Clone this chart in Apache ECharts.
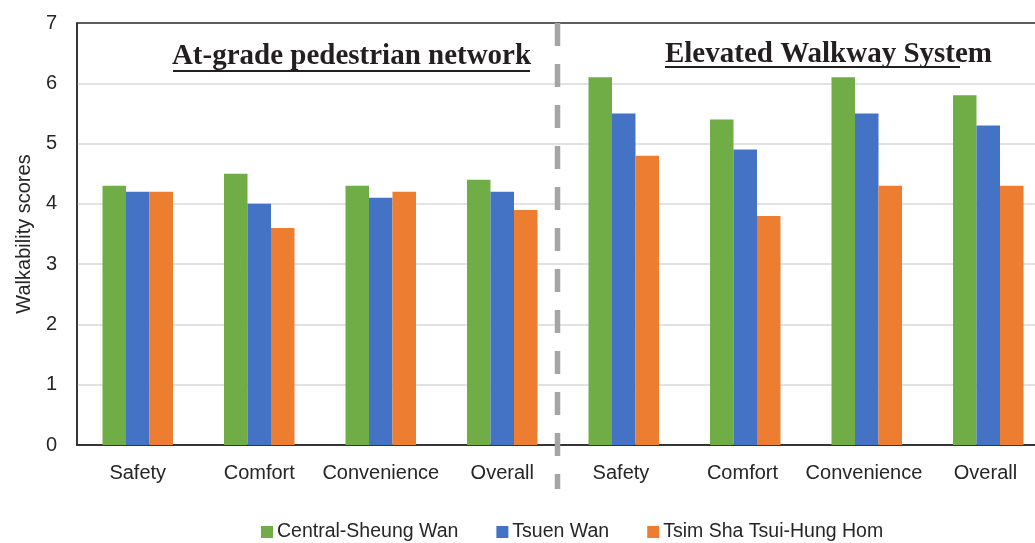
<!DOCTYPE html>
<html>
<head>
<meta charset="utf-8">
<script src="https://cdn.jsdelivr.net/npm/echarts@6/dist/echarts.min.js"></script>
<style>
html,body{margin:0;padding:0;background:#fff;}
#main{width:1035px;height:543px;}
</style>
</head>
<body>
<div id="main"></div>
<script>
var categories = ['Safety', 'Comfort', 'Convenience', 'Overall', 'Safety ', 'Comfort ', 'Convenience ', 'Overall '];
var seriesNames = ['Central-Sheung Wan', 'Tsuen Wan', 'Tsim Sha Tsui-Hung Hom'];
var centralSheungWan = [4.3, 4.5, 4.3, 4.4, 6.1, 5.4, 6.1, 5.8];
var tsuenWan = [4.2, 4.0, 4.1, 4.2, 5.5, 4.9, 5.5, 5.3];
var tsimShaTsuiHungHom = [4.2, 3.6, 4.2, 3.9, 4.8, 3.8, 4.3, 4.3];
var yTicks = [0, 1, 2, 3, 4, 5, 6, 7];
var sectionTitles = ['At-grade pedestrian network', 'Elevated Walkway System'];
var colors = ['#70AD47', '#4472C4', '#ED7D31'];

var chart = echarts.init(document.getElementById('main'), null, {renderer: 'canvas'});
var txt = '#262626';
var sans = '"Liberation Sans", Arial, sans-serif';
var serif = '"Liberation Serif", "Times New Roman", serif';

function barSeries(name, data, color) {
  return {
    name: name, type: 'bar', data: data,
    barWidth: 23.5, barGap: '0%',
    itemStyle: {color: color},
    emphasis: {disabled: true}
  };
}

chart.setOption({
  animation: false,
  color: colors,
  grid: {left: 77, width: 972, top: 23, height: 422, show: true, borderColor: '#2a2a2a', borderWidth: 1.5, containLabel: false, outerBoundsMode: 'none'},
  legend: {
    data: seriesNames, left: 256, top: 517, icon: 'rect', itemWidth: 12, itemHeight: 12, itemGap: 38,
    textStyle: {fontFamily: sans, fontSize: 19.5, color: txt, padding: [0,0,0,-1]}
  },
  xAxis: {
    type: 'category', data: categories,
    axisLine: {show: true, lineStyle: {color: '#2a2a2a', width: 1.5}},
    axisTick: {show: false},
    axisLabel: {fontFamily: sans, fontSize: 20, color: txt, margin: 18, interval: 0}
  },
  yAxis: {
    type: 'value', min: yTicks[0], max: yTicks[yTicks.length - 1], interval: 1,
    name: 'Walkability scores', nameLocation: 'middle', nameGap: 42, nameRotate: 90,
    nameTextStyle: {fontFamily: sans, fontSize: 20, color: txt},
    axisLine: {show: true, lineStyle: {color: '#2a2a2a', width: 1.5}},
    axisTick: {show: false},
    axisLabel: {fontFamily: sans, fontSize: 20, color: txt, margin: 20},
    splitLine: {showMinLine: false, showMaxLine: false, lineStyle: {color: '#D9D9D9', width: 1.5}}
  },
  series: [
    barSeries(seriesNames[0], centralSheungWan, colors[0]),
    barSeries(seriesNames[1], tsuenWan, colors[1]),
    barSeries(seriesNames[2], tsimShaTsuiHungHom, colors[2])
  ],
  graphic: [
    {type: 'line', z: 10, shape: {x1: 557.5, y1: 23, x2: 557.5, y2: 489}, style: {stroke: '#A5A5A5', lineWidth: 5.5, lineDash: [23, 18]}},
    {type: 'text', z: 10, x: 351.5, y: 42.5, style: {text: sectionTitles[0], fontFamily: serif, fontWeight: 'bold', fontSize: 29, fill: '#231f20', textAlign: 'center'}},
    {type: 'line', z: 10, shape: {x1: 173, y1: 71, x2: 530, y2: 71}, style: {stroke: '#231f20', lineWidth: 2.2}},
    {type: 'text', z: 10, x: 828.5, y: 40, style: {text: sectionTitles[1], fontFamily: serif, fontWeight: 'bold', fontSize: 29, fill: '#231f20', textAlign: 'center'}},
    {type: 'line', z: 10, shape: {x1: 665, y1: 67, x2: 960, y2: 67}, style: {stroke: '#231f20', lineWidth: 2.2}}
  ]
});
</script>
</body>
</html>
